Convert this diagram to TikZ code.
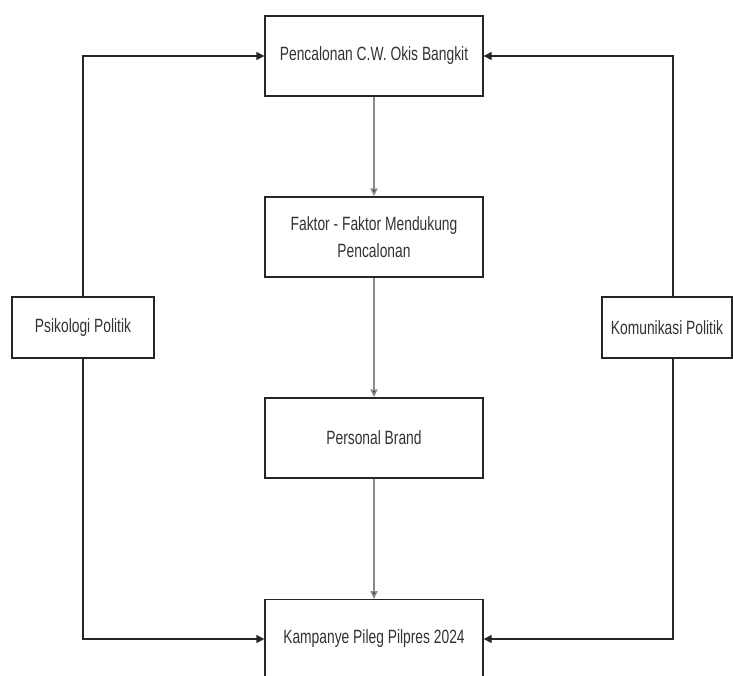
\documentclass[tikz,border=0pt]{standalone}
\usepackage{fontspec}
\setmainfont{Liberation Sans}
\newfontfamily\narrowfont[FakeStretch=0.72]{Liberation Sans}
\usetikzlibrary{arrows.meta}
\begin{document}
\begin{tikzpicture}[x=1pt,y=-1pt,
  box/.style={draw=black!85,line width=1.4pt,fill=white,inner sep=0pt,
    font=\narrowfont\fontsize{19.2}{27}\selectfont,align=center,text=black!80},
  side/.style={draw=black!85,line width=1.4pt,-{Triangle[length=8pt,width=8pt]}},
  mid/.style={draw=black!45,line width=1.6pt,-{Triangle[length=8pt,width=7pt,fill=black!85]}}]
\clip (0,0) rectangle (733,675);
\useasboundingbox (0,0) rectangle (733,675);
\fill[white] (0,0) rectangle (733,675);
\node[box,minimum width=218pt,minimum height=80pt] (top) at (374,56) {Pencalonan C.W. Okis Bangkit};
\node[box,minimum width=218pt,minimum height=80pt] (fak) at (374,237) {Faktor - Faktor Mendukung\\Pencalonan};
\node[box,minimum width=218pt,minimum height=80pt] (pb) at (374,438) {Personal Brand};
\node[box,minimum width=218pt,minimum height=90pt,anchor=north] (kam) at (374,599) {};
\node[font=\narrowfont\fontsize{19.2}{27}\selectfont,text=black!80] (kamt) at (374,639) {Kampanye Pileg Pilpres 2024};
\node[box,minimum width=142pt,minimum height=61pt] (psi) at (83,327.5) {Psikologi Politik};
\node[box,minimum width=130pt,minimum height=61pt] (kom) at (667,327.5) {Komunikasi Politik};
\coordinate (psiTop) at (83,56);
\coordinate (psiBot) at (83,639);
\coordinate (komTop) at (673,56);
\coordinate (komBot) at (673,639);
\draw[mid] (top.south) -- (fak.north);
\draw[mid] (fak.south) -- (pb.north);
\draw[mid] (pb.south) -- (kam.north);
\draw[side] (psi.north -| psiTop) -- (psiTop) -- (top.west);
\draw[side] (psi.south -| psiBot) -- (psiBot) -- (kam.west |- psiBot);
\draw[side] (kom.north -| komTop) -- (komTop) -- (top.east);
\draw[side] (kom.south -| komBot) -- (komBot) -- (kam.east |- komBot);
\end{tikzpicture}
\end{document}
